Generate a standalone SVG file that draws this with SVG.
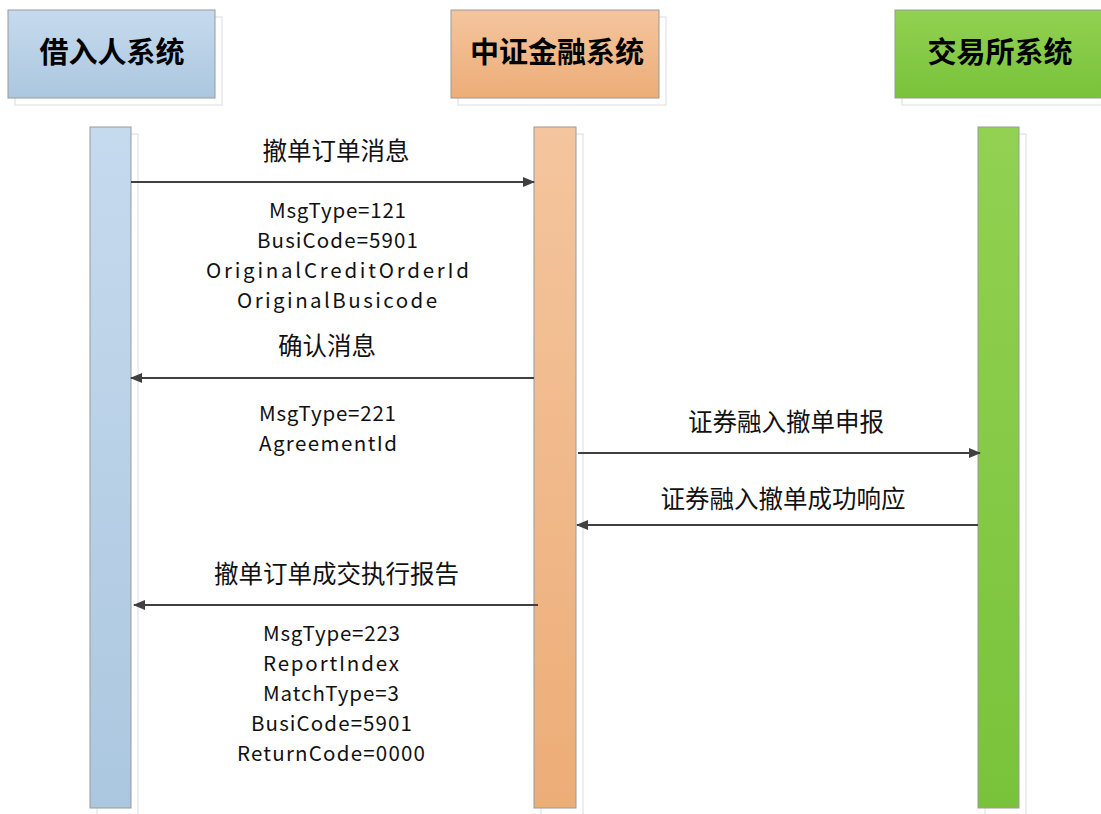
<svg xmlns="http://www.w3.org/2000/svg" width="1101" height="814" viewBox="0 0 1101 814">
<defs>
<linearGradient id="gb" x1="0" y1="0" x2="0" y2="1"><stop offset="0" stop-color="#c6daee"/><stop offset="1" stop-color="#abc7df"/></linearGradient>
<linearGradient id="go" x1="0" y1="0" x2="0" y2="1"><stop offset="0" stop-color="#f4c59e"/><stop offset="1" stop-color="#edad77"/></linearGradient>
<linearGradient id="gg" x1="0" y1="0" x2="0" y2="1"><stop offset="0" stop-color="#92d152"/><stop offset="1" stop-color="#79c33a"/></linearGradient>
<marker id="ah" viewBox="0 0 12 10" refX="11" refY="5" markerWidth="12" markerHeight="10" markerUnits="userSpaceOnUse" orient="auto"><path d="M0,0 L12,5 L0,10 Z" fill="#404040"/></marker>
</defs>
<style>
.sh{fill:#fff;stroke:#dcdcdc;stroke-width:1}
.bx{stroke:#9a9a9a;stroke-width:1}
.ht{font-family:"Noto Sans CJK SC","Noto Sans",sans-serif;font-weight:bold;font-size:29px;fill:#000;text-anchor:middle}
.lt{font-family:"Noto Sans CJK SC","Noto Sans",sans-serif;font-size:24.5px;fill:#111;text-anchor:middle}
.lm{font-family:"Noto Sans CJK SC","Noto Sans",sans-serif;font-size:20.5px;fill:#111;text-anchor:middle}
.ln{stroke:#404040;stroke-width:2;fill:none;marker-end:url(#ah)}
</style>
<rect width="1101" height="814" fill="#fff"/>
<g id="node-borrower">
<rect class="sh" x="15" y="17" width="207" height="88"/>
<rect class="bx" x="8" y="10" width="207" height="88" fill="url(#gb)"/>
<text class="ht" x="112" y="63">借入人系统</text>
</g>
<g id="node-csf">
<rect class="sh" x="458" y="17" width="208" height="88"/>
<rect class="bx" x="451" y="10" width="208" height="88" fill="url(#go)"/>
<text class="ht" x="557" y="63">中证金融系统</text>
</g>
<g id="node-exchange">
<rect class="sh" x="902" y="17" width="207" height="88"/>
<rect class="bx" x="895" y="10" width="207" height="88" fill="url(#gg)"/>
<text class="ht" x="1000" y="63">交易所系统</text>
</g>
<g id="lifeline-borrower">
<rect class="sh" x="97" y="134" width="41" height="681"/>
<rect class="bx" x="90" y="127" width="41" height="681" fill="url(#gb)"/>
</g>
<g id="lifeline-csf">
<rect class="sh" x="541" y="134" width="42" height="681"/>
<rect class="bx" x="534" y="127" width="42" height="681" fill="url(#go)"/>
</g>
<g id="lifeline-exchange">
<rect class="sh" x="985" y="134" width="41" height="681"/>
<rect class="bx" x="978" y="127" width="41" height="681" fill="url(#gg)"/>
</g>
<g id="connectors">
<line class="ln" x1="131" y1="182" x2="534" y2="182"/>
<line class="ln" x1="534" y1="378" x2="131" y2="378"/>
<line class="ln" x1="578" y1="453" x2="980" y2="453"/>
<line class="ln" x1="978" y1="525" x2="577" y2="525"/>
<line class="ln" x1="538" y1="605" x2="134" y2="605"/>
</g>
<g id="labels">
<text class="lt" x="336" y="160">撤单订单消息</text>
<text class="lm" x="337.5" y="218" textLength="137" lengthAdjust="spacing">MsgType=121</text>
<text class="lm" x="337.5" y="248" textLength="161" lengthAdjust="spacing">BusiCode=5901</text>
<text class="lm" x="337.5" y="278" textLength="263" lengthAdjust="spacing">OriginalCreditOrderId</text>
<text class="lm" x="337" y="308" textLength="200" lengthAdjust="spacing">OriginalBusicode</text>
<text class="lt" x="327" y="355">确认消息</text>
<text class="lm" x="327.5" y="421" textLength="137" lengthAdjust="spacing">MsgType=221</text>
<text class="lm" x="328" y="451" textLength="138" lengthAdjust="spacing">AgreementId</text>
<text class="lt" x="786" y="431">证券融入撤单申报</text>
<text class="lt" x="783" y="508">证券融入撤单成功响应</text>
<text class="lt" x="336.5" y="583">撤单订单成交执行报告</text>
<text class="lm" x="331.5" y="641" textLength="137" lengthAdjust="spacing">MsgType=223</text>
<text class="lm" x="331" y="671" textLength="136" lengthAdjust="spacing">ReportIndex</text>
<text class="lm" x="331" y="701" textLength="136" lengthAdjust="spacing">MatchType=3</text>
<text class="lm" x="331.5" y="731" textLength="161" lengthAdjust="spacing">BusiCode=5901</text>
<text class="lm" x="331" y="761" textLength="188" lengthAdjust="spacing">ReturnCode=0000</text>
</g>
</svg>
